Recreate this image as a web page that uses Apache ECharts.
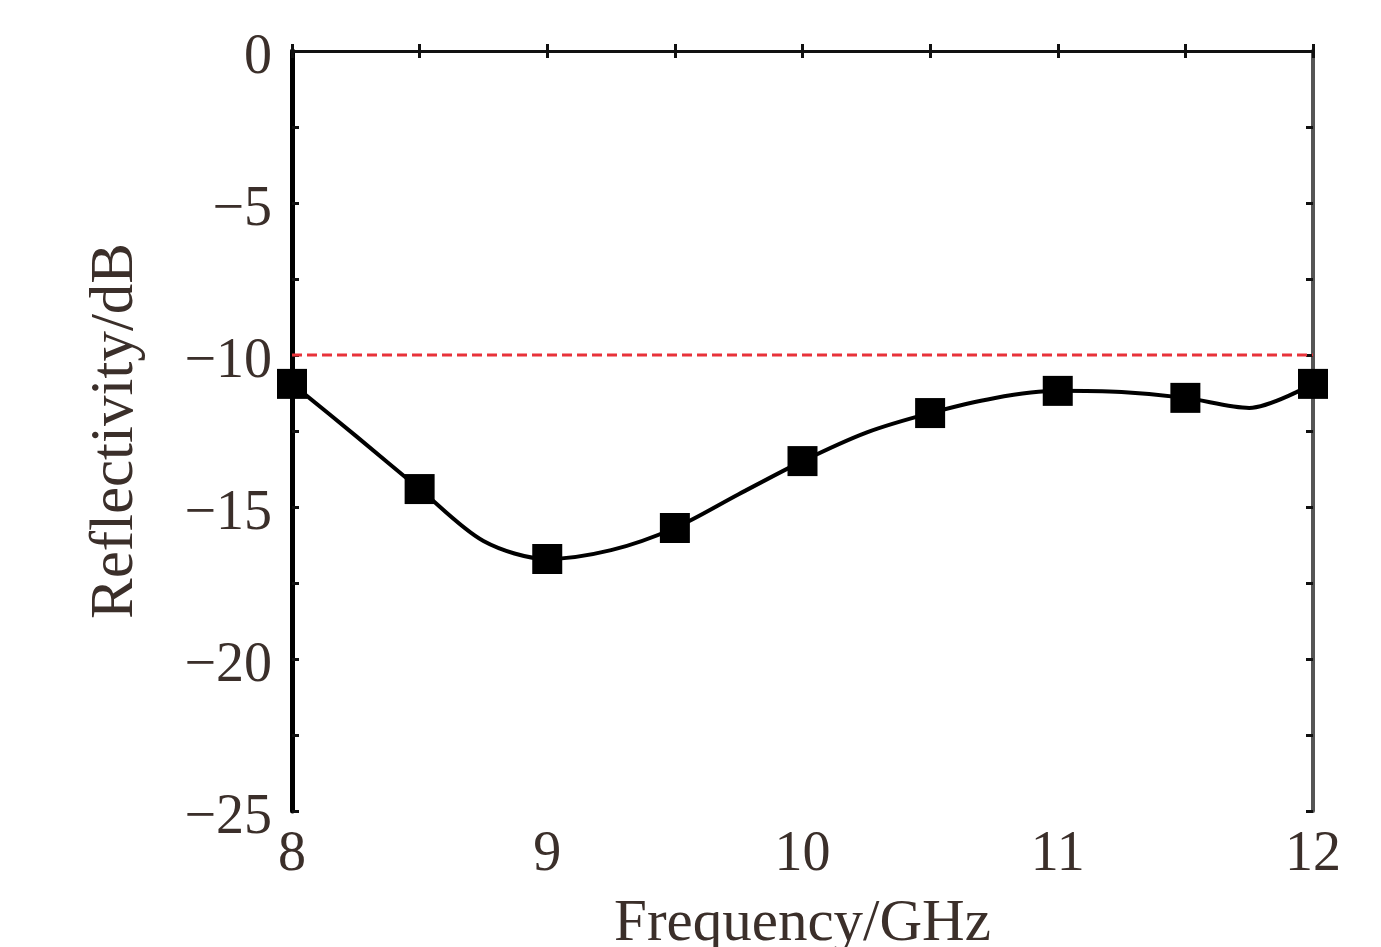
<!DOCTYPE html>
<html>
<head>
<meta charset="utf-8">
<script src="https://cdn.jsdelivr.net/npm/echarts@6/dist/echarts.min.js"></script>
<style>
  html, body { margin: 0; padding: 0; background: #fff; }
  #chart { width: 1381px; height: 947px; }
</style>
</head>
<body>
<div id="chart"></div>
<script>
// measured points (squares)
const markerFreq = [8, 8.5, 9, 9.5, 10, 10.5, 11, 11.5, 12];
const markerRefl = [-10.95, -14.41, -16.71, -15.69, -13.49, -11.91, -11.18, -11.41, -10.95];

// curve every 0.25 GHz
const curveFreq = [8, 8.25, 8.5, 8.75, 9, 9.25, 9.5, 9.75, 10, 10.25, 10.5, 10.75, 11, 11.25, 11.5, 11.75, 12];
const curveRefl = [-10.95, -12.66, -14.41, -16.12, -16.71, -16.42, -15.69, -14.58, -13.49, -12.55, -11.91, -11.42, -11.18, -11.22, -11.41, -11.74, -10.95];

// -10 dB reference line
const refLevel = -10;

const textColor = '#3b2f2a';
const fontFam = '"Liberation Serif", "DejaVu Serif", serif';

const chart = echarts.init(document.getElementById('chart'));

// minus sign instead of hyphen, text nudged a bit below the tick like the original
const fmtMinus = v => '{a|' + (v < 0 ? '\u2212' + Math.abs(v) : String(v)) + '}';

const tickStyle = { color: '#111', width: 3 };

const option = {
  animation: false,
  backgroundColor: '#fff',
  grid: { left: 292, right: 68, top: 51, bottom: 136, outerBoundsMode: 'none', containLabel: false },
  xAxis: [
    {
      type: 'value', min: 8, max: 12, interval: 1,
      name: 'Frequency/GHz', nameLocation: 'middle', nameGap: 84,
      nameTextStyle: { fontFamily: fontFam, fontSize: 59, color: textColor },
      axisLine: { lineStyle: { color: '#111', width: 3 } },
      axisTick: { inside: true, length: 7, lineStyle: tickStyle },
      minorTick: { show: true, splitNumber: 2, length: 7, lineStyle: tickStyle },
      axisLabel: { margin: 16, fontFamily: fontFam, fontSize: 56, color: textColor },
      splitLine: { show: false }
    },
    {
      type: 'value', position: 'top', min: 8, max: 12, interval: 1,
      axisLine: { lineStyle: { color: '#111', width: 3 } },
      axisTick: { inside: true, length: 7, lineStyle: tickStyle },
      minorTick: { show: true, splitNumber: 2, length: 7, lineStyle: tickStyle },
      axisLabel: { show: false },
      splitLine: { show: false }
    }
  ],
  yAxis: [
    {
      type: 'value', min: -25, max: 0, interval: 5,
      name: 'Reflectivity/dB', nameLocation: 'middle', nameGap: 146,
      nameTextStyle: { fontFamily: fontFam, fontSize: 61, color: textColor },
      axisLine: { lineStyle: { color: '#000', width: 5 } },
      axisTick: { inside: true, length: 7, lineStyle: tickStyle },
      minorTick: { show: true, splitNumber: 2, length: 7, lineStyle: tickStyle },
      axisLabel: {
        margin: 20, color: textColor, formatter: fmtMinus,
        rich: { a: { fontFamily: fontFam, fontSize: 56, color: textColor, padding: [14, 0, 0, 0] } }
      },
      splitLine: { show: false }
    },
    {
      type: 'value', position: 'right', min: -25, max: 0, interval: 5,
      axisLine: { lineStyle: { color: '#555', width: 4 } },
      axisTick: { inside: true, length: 7, lineStyle: tickStyle },
      minorTick: { show: true, splitNumber: 2, length: 7, lineStyle: tickStyle },
      axisLabel: { show: false },
      splitLine: { show: false }
    }
  ],
  series: [
    {
      type: 'line',
      data: [[8, refLevel], [12, refLevel]],
      symbol: 'none',
      lineStyle: { color: '#e8333a', width: 3, type: [10, 5] },
      z: 2
    },
    {
      type: 'line',
      data: curveFreq.map((f, i) => [f, curveRefl[i]]),
      smooth: 0.3,
      symbol: 'none',
      lineStyle: { color: '#000', width: 4 },
      z: 3
    },
    {
      type: 'scatter',
      data: markerFreq.map((f, i) => [f, markerRefl[i]]),
      symbol: 'rect',
      symbolSize: 30,
      itemStyle: { color: '#000', opacity: 1 },
      z: 4
    }
  ]
};

chart.setOption(option);
</script>
</body>
</html>
